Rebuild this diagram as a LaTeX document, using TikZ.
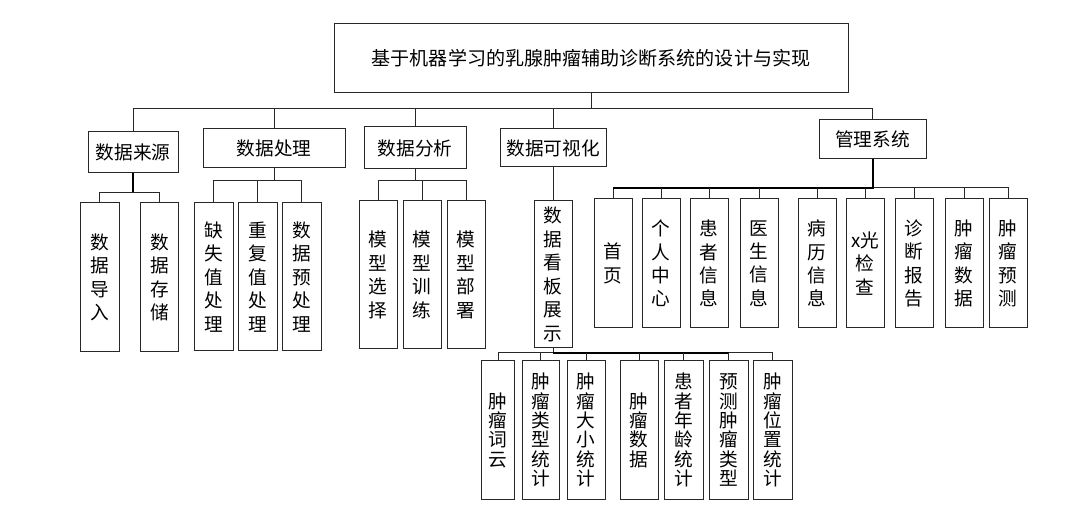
\documentclass[tikz,border=0pt]{standalone}
\usepackage{fontspec}
\newfontfamily\cjk{Noto Sans CJK SC}

\tikzset{every picture/.style={line width=0.75pt}}
\tikzset{
  bx/.style 2 args={draw={rgb, 255:red, 40; green, 40; blue, 40 }, inner sep=0pt, align=center,
    minimum width=#1*0.75pt, minimum height=#2*0.75pt, font=\cjk\fontsize{14}{17.6}\selectfont},
  dense/.style={font=\cjk\fontsize{14}{14.5}\selectfont},
  link/.style={draw={rgb, 255:red, 40; green, 40; blue, 40 }},
  boldlink/.style={draw={rgb, 255:red, 0; green, 0; blue, 0 }, line width=1.5pt}
}

\begin{document}
\begin{tikzpicture}[x=0.75pt,y=0.75pt,yscale=-1,xscale=1]
	\useasboundingbox (0,0) rectangle (1083,506);

	% Text Node
	\node [bx={514}{69}, font=\cjk\fontsize{14.3}{17}\selectfont] (title) at (591,58.5) {基于机器学习的乳腺肿瘤辅助诊断系统的设计与实现};

	% Text Node
	\node [bx={90}{41}] (src) at (133,152.5) {数据来源};
	% Text Node
	\node [bx={142}{39}] (proc) at (274,148.5) {数据处理};
	% Text Node
	\node [bx={102}{42}] (anal) at (415,148) {数据分析};
	% Text Node
	\node [bx={106}{38}] (vis) at (553,148) {数据可视化};
	% Text Node
	\node [bx={107}{39}] (mgmt) at (872.5,139.5) {管理系统};

	% Text Node
	\node [bx={39}{149}] (src1) at (99.5,277.5) {数\\据\\导\\入};
	% Text Node
	\node [bx={38}{149}] (src2) at (159.5,277.5) {数\\据\\存\\储};

	% Text Node
	\node [bx={39}{148}] (proc1) at (213.5,277) {缺\\失\\值\\处\\理};
	% Text Node
	\node [bx={39}{148}] (proc2) at (257.5,277) {重\\复\\值\\处\\理};
	% Text Node
	\node [bx={39}{148}] (proc3) at (301.5,277) {数\\据\\预\\处\\理};

	% Text Node
	\node [bx={38}{148}] (anal1) at (378,275) {模\\型\\选\\择};
	% Text Node
	\node [bx={38}{148}] (anal2) at (422,275) {模\\型\\训\\练};
	% Text Node
	\node [bx={38}{148}] (anal3) at (466,275) {模\\型\\部\\署};

	% Text Node
	\node [bx={38}{147}] (board) at (553,274.5) {数\\据\\看\\板\\展\\示};

	% Text Node
	\node [bx={38}{129}] (m1) at (613,263.5) {首\\页};
	% Text Node
	\node [bx={38}{129}] (m2) at (661,263.5) {个\\人\\中\\心};
	% Text Node
	\node [bx={38}{129}] (m3) at (709,263.5) {患\\者\\信\\息};
	% Text Node
	\node [bx={38}{129}] (m4) at (759,263.5) {医\\生\\信\\息};
	% Text Node
	\node [bx={38}{129}] (m5) at (817,263.5) {病\\历\\信\\息};
	% Text Node
	\node [bx={38}{129}] (m6) at (865,263.5) {x光\\检\\查};
	% Text Node
	\node [bx={38}{129}] (m7) at (914,263.5) {诊\\断\\报\\告};
	% Text Node
	\node [bx={38}{129}] (m8) at (964,263.5) {肿\\瘤\\数\\据};
	% Text Node
	\node [bx={38}{129}] (m9) at (1008,263.5) {肿\\瘤\\预\\测};

	% Text Node
	\node [bx={33}{138}, dense] (b1) at (498,430) {肿\\瘤\\词\\云};
	% Text Node
	\node [bx={37}{138}, dense] (b2) at (540.5,430) {肿\\瘤\\类\\型\\统\\计};
	% Text Node
	\node [bx={38}{138}, dense] (b3) at (586,430) {肿\\瘤\\大\\小\\统\\计};
	% Text Node
	\node [bx={38}{138}, dense] (b4) at (639,430) {肿\\瘤\\数\\据};
	% Text Node
	\node [bx={39}{138}, dense] (b5) at (683.5,430) {患\\者\\年\\龄\\统\\计};
	% Text Node
	\node [bx={39}{138}, dense] (b6) at (728.5,430) {预\\测\\肿\\瘤\\类\\型};
	% Text Node
	\node [bx={39}{138}, dense] (b7) at (772.5,430) {肿\\瘤\\位\\置\\统\\计};

	% bus levels
	\coordinate (bus0) at (0,109);
	\coordinate (bsrc) at (0,193);
	\coordinate (bproc) at (0,181);
	\coordinate (banal) at (0,181);
	\coordinate (bmgmt) at (0,188);
	\coordinate (bboard) at (0,353);

	%Straight Lines
	\draw [link] (title.south) -- (title.south |- bus0) ;
	\draw [link] (src.north) -- (src.north |- bus0) -- (mgmt.north |- bus0) -- (mgmt.north) ;
	\draw [link] (proc.north) -- (proc.north |- bus0) ;
	\draw [link] (anal.north) -- (anal.north |- bus0) ;
	\draw [link] (vis.north) -- (vis.north |- bus0) ;

	%Straight Lines
	\draw [boldlink] (src.south) -- (src.south |- bsrc) ;
	\draw [link] (src1.north) -- (src1.north |- bsrc) -- (src2.north |- bsrc) -- (src2.north) ;

	%Straight Lines
	\draw [link] (proc.south) -- (proc.south |- bproc) ;
	\draw [link] (proc1.north) -- (proc1.north |- bproc) -- (proc3.north |- bproc) -- (proc3.north) ;
	\draw [link] (proc2.north) -- (proc2.north |- bproc) ;

	%Straight Lines
	\draw [link] (anal.south) -- (anal.south |- banal) ;
	\draw [link] (anal1.north) -- (anal1.north |- banal) -- (anal3.north |- banal) -- (anal3.north) ;
	\draw [link] (anal2.north) -- (anal2.north |- banal) ;

	%Straight Lines
	\draw [link] (vis.south) -- (board.north) ;

	%Straight Lines
	\draw [link] (m1.north) -- (m1.north |- bmgmt) -- (m9.north |- bmgmt) -- (m9.north) ;
	\draw [boldlink] (mgmt.south) -- (mgmt.south |- bmgmt) -- (m1.north |- bmgmt) ;
	\draw [link] (m2.north) -- (m2.north |- bmgmt) ;
	\draw [link] (m3.north) -- (m3.north |- bmgmt) ;
	\draw [link] (m4.north) -- (m4.north |- bmgmt) ;
	\draw [link] (m5.north) -- (m5.north |- bmgmt) ;
	\draw [link] (m6.north) -- (m6.north |- bmgmt) ;
	\draw [link] (m7.north) -- (m7.north |- bmgmt) ;
	\draw [link] (m8.north) -- (m8.north |- bmgmt) ;

	%Straight Lines
	\draw [link] (board.south) -- (board.south |- bboard) ;
	\draw [link] (b1.north) -- (b1.north |- bboard) -- (b7.north |- bboard) -- (b7.north) ;
	\draw [boldlink] (board.south |- bboard) -- (b6.north |- bboard) ;
	\draw [link] (b2.north) -- (b2.north |- bboard) ;
	\draw [link] (b3.north) -- (b3.north |- bboard) ;
	\draw [link] (b4.north) -- (b4.north |- bboard) ;
	\draw [link] (b5.north) -- (b5.north |- bboard) ;
	\draw [link] (b6.north) -- (b6.north |- bboard) ;

\end{tikzpicture}
\end{document}
